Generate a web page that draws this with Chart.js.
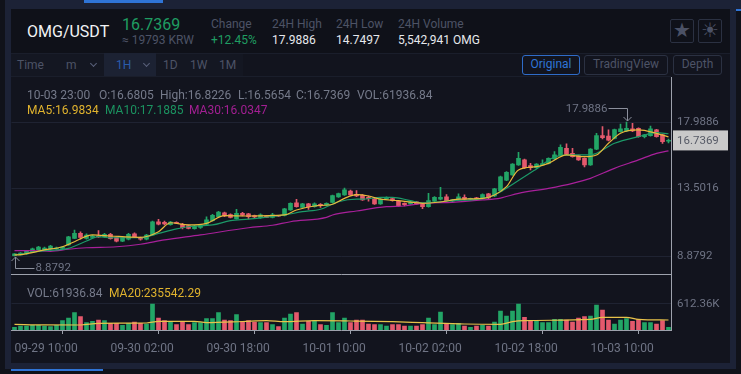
<!DOCTYPE html>
<html>
<head>
<meta charset="utf-8">
<title>OMG/USDT</title>
<script src="https://cdn.jsdelivr.net/npm/chart.js@4/dist/chart.umd.min.js"></script>
<style>
  html, body { margin: 0; padding: 0; background: #12141e; }
  #page { position: relative; width: 741px; height: 374px; overflow: hidden; background: #12141e; font-family: Roboto, sans-serif; }
  #page div, #page span { position: absolute; white-space: nowrap; }
  canvas { position: absolute; left: 0; }
  .label { color: #4d5366; font-size: 12px; }
  .value { color: #e6e8ec; font-size: 12px; }
  .tool { color: #4d5366; font-size: 12px; top: 58px; }
  .info { color: #757a8a; font-size: 12px; }
  .btn { box-sizing: border-box; top: 55px; height: 20px; line-height: 17px; text-align: center; font-size: 12px; border: 1px solid #2b3142; border-radius: 3px; color: #4d5366; }
  .chev { width: 4px; height: 4px; border-right: 1.5px solid #59607a; border-bottom: 1.5px solid #59607a; transform: rotate(45deg); top: 61px; }
  .icon { box-sizing: border-box; top: 19px; width: 24px; height: 24px; border: 1px solid #2b3142; border-radius: 2px; color: #4b5165; text-align: center; line-height: 21px; font-size: 20px; }
</style>
</head>
<body>
<div id="page">
  <!-- surrounding page -->
  <div style="left:0;top:0;width:741px;height:9px;background:#1c2236"></div>
  <div style="left:84px;top:0;width:79px;height:3px;background:#2f74d6"></div>
  <div style="left:5px;top:0;width:6px;height:374px;background:#1c2236"></div>
  <div style="left:0;top:0;width:5px;height:374px;background:#10121a"></div>
  <div style="left:730px;top:0;width:11px;height:374px;background:#1c2236"></div>
  <div style="left:736px;top:9px;width:5px;height:365px;background:#10121a"></div>
  <div style="left:736px;top:9px;width:5px;height:2px;background:#2f74d6"></div>
  <div style="left:5px;top:363px;width:731px;height:6px;background:#1c2236"></div>
  <div style="left:0;top:369px;width:741px;height:5px;background:#10121a"></div>
  <div style="left:11px;top:369px;width:92px;height:2px;background:#2f74d6"></div>
  <div style="left:11px;top:9px;width:719px;height:44px;background:#0f1119"></div>
  <div style="left:11px;top:53px;width:719px;height:1px;background:#1a1e2b"></div>
  <div style="left:11px;top:76px;width:660px;height:1px;background:#1a1e2b"></div>
  <div style="left:11px;top:54px;width:232px;height:22px;background:#141722"></div>
  <div style="left:104px;top:53px;width:52px;height:23px;background:#1c2233"></div>

  <!-- header -->
  <div style="left:27px;top:22px;color:#f2f3f5;font-size:16px">OMG/USDT</div>
  <div style="left:122px;top:15px;color:#1f9d62;font-size:16px">16.7369</div>
  <div style="left:122px;top:33px;color:#4d5366;font-size:12px">≈ 19793 KRW</div>
  <div class="label" style="left:211px;top:17px">Change</div>
  <div style="left:211px;top:33px;color:#1f9d62;font-size:12px">+12.45%</div>
  <div class="label" style="left:272px;top:17px">24H High</div>
  <div class="value" style="left:272px;top:33px">17.9886</div>
  <div class="label" style="left:336px;top:17px">24H Low</div>
  <div class="value" style="left:336px;top:33px">14.7497</div>
  <div class="label" style="left:398px;top:17px">24H Volume</div>
  <div class="value" style="left:398px;top:33px">5,542,941 OMG</div>
  <div class="icon" style="left:670px">★</div>
  <div class="icon" style="left:698px">☀</div>

  <!-- toolbar -->
  <div class="tool" style="left:17px">Time</div>
  <div class="tool" style="left:66px">m</div>
  <div class="chev" style="left:91px"></div>
  <div class="tool" style="left:116px;color:#2a5cab">1H</div>
  <div class="chev" style="left:144px"></div>
  <div class="tool" style="left:163px">1D</div>
  <div class="tool" style="left:190px">1W</div>
  <div class="tool" style="left:219px">1M</div>
  <div class="btn" style="left:522px;width:58px;color:#2f74d6;border-color:#2f6cc8">Original</div>
  <div class="btn" style="left:584px;width:84px">TradingView</div>
  <div class="btn" style="left:673px;width:49px">Depth</div>

  <canvas id="price-chart" width="741" height="200" style="top:77px;width:741px;height:200px"></canvas>
  <canvas id="volume-chart" width="741" height="89" style="top:274px;width:741px;height:89px"></canvas>

  <!-- legends -->
  <div class="info" style="left:27px;top:88px">10-03 23:00</div>
  <div class="info" style="left:99px;top:88px">O:16.6805</div>
  <div class="info" style="left:160px;top:88px">High:16.8226</div>
  <div class="info" style="left:238px;top:88px">L:16.5654</div>
  <div class="info" style="left:296px;top:88px">C:16.7369</div>
  <div class="info" style="left:357px;top:88px">VOL:61936.84</div>
  <div class="info" style="left:27px;top:103px;color:#e0b32e">MA5:16.9834</div>
  <div class="info" style="left:105px;top:103px;color:#1b9360">MA10:17.1885</div>
  <div class="info" style="left:189px;top:103px;color:#a31f93">MA30:16.0347</div>
  <div class="info" style="left:27px;top:286px">VOL:61936.84</div>
  <div class="info" style="left:109px;top:286px;color:#e0b32e">MA20:235542.29</div>
</div>

<script>
/* Candles, one per hour from 09-29 10:00 to 10-03 23:00 */
let opens = [8.91, 8.95, 9.02, 9.15, 9.29, 9.29, 9.36, 9.36, 9.39, 9.63,
    10.08, 10.42, 10.08, 10.15, 10.24, 10.19, 10.36, 10.15, 9.88, 10.02,
    10.38, 10.12, 10.02, 10.31, 11.21, 11.17, 11.01, 11.17, 11.04, 10.94,
    10.74, 10.83, 11.04, 11.28, 11.55, 11.82, 11.69, 11.42, 11.78, 11.74,
    11.62, 11.48, 11.6, 11.51, 11.62, 11.63, 12.01, 12.5, 12.19, 12.42,
    12.23, 12.4, 12.35, 12.53, 12.89, 13.03, 13.3, 13.08, 13.01, 12.87,
    12.76, 12.42, 12.78, 12.78, 12.6, 12.46, 12.42, 12.57, 12.42, 12.23,
    12.6, 12.74, 12.91, 12.6, 12.74, 12.87, 12.74, 12.8, 12.78, 13.1,
    12.96, 13.3, 14.03, 14.39, 15.07, 15.41, 15.02, 14.88, 15.07, 15.18,
    15.48, 15.7, 16.2, 15.86, 15.7, 15.52, 15.07, 16.14, 17.06, 17.04,
    16.88, 17.33, 17.38, 17.52, 17.56, 16.99, 17.06, 17.45, 17.11, 16.6805]

let closes = [9.02, 9.08, 9.22, 9.36, 9.49, 9.42, 9.56, 9.42, 9.49, 10.19,
    10.42, 10.15, 10.31, 10.24, 10.17, 10.36, 10.06, 9.88, 10.15, 10.36,
    10.19, 10.02, 10.31, 11.21, 11.04, 11.06, 11.19, 11.1, 10.8, 10.76,
    10.92, 10.97, 11.33, 11.65, 11.87, 11.6, 11.51, 11.78, 11.65, 11.55,
    11.53, 11.67, 11.51, 11.67, 11.58, 12.08, 12.46, 12.23, 12.42, 12.23,
    12.42, 12.3, 12.46, 12.98, 13.12, 13.37, 13.03, 12.96, 12.69, 12.78,
    12.42, 12.74, 12.87, 12.64, 12.28, 12.37, 12.55, 12.42, 12.23, 12.64,
    12.87, 12.87, 12.64, 12.69, 12.91, 12.74, 12.78, 12.76, 13.05, 12.82,
    13.44, 14.27, 14.57, 15.12, 15.52, 14.88, 14.88, 15.12, 15.16, 15.52,
    15.75, 16.27, 15.8, 15.63, 15.41, 15.07, 16.14, 17.06, 16.92, 16.75,
    17.47, 17.52, 17.56, 17.38, 16.99, 17.11, 17.52, 16.99, 16.65, 16.7369]

let highs = [9.05, 9.12, 9.26, 9.42, 9.53, 9.49, 9.6, 9.49, 9.53, 10.22,
    10.65, 10.53, 10.38, 10.28, 10.6, 10.42, 10.42, 10.19, 10.19, 10.42,
    10.45, 10.17, 10.35, 11.25, 11.38, 11.25, 11.23, 11.2, 11.1, 10.98,
    10.96, 11.04, 11.55, 11.72, 11.92, 11.87, 11.74, 12.06, 11.84, 11.78,
    11.66, 11.74, 11.63, 11.78, 11.65, 12.12, 12.5, 12.74, 12.46, 12.46,
    12.5, 12.44, 12.5, 13.02, 13.16, 13.5, 13.36, 13.32, 13.06, 12.96,
    12.8, 12.78, 12.9, 12.84, 12.64, 12.5, 12.6, 12.6, 12.46, 13.14,
    12.92, 13.55, 13.05, 12.74, 13.1, 13.03, 12.82, 12.87, 13.1, 13.14,
    13.48, 14.31, 14.62, 15.16, 15.93, 15.46, 15.18, 15.16, 15.41, 15.56,
    15.97, 16.43, 16.5, 16.2, 15.74, 15.56, 16.18, 17.22, 17.67, 17.45,
    17.51, 17.84, 17.9886, 17.9, 17.6, 17.15, 17.72, 17.49, 17.15, 16.8226]

let lows = [8.8792, 8.93, 8.98, 9.12, 9.26, 9.25, 9.33, 9.32, 9.36, 9.6,
    10.05, 10.02, 10.02, 10.1, 10.14, 10.15, 10.02, 9.84, 9.85, 9.98,
    10.15, 9.95, 9.98, 10.28, 11.0, 11.0, 10.98, 11.07, 10.72, 10.72,
    10.7, 10.75, 11.0, 11.24, 11.5, 11.55, 11.47, 11.38, 11.6, 11.4,
    11.48, 11.44, 11.48, 11.47, 11.55, 11.6, 11.98, 12.2, 12.15, 12.05,
    12.2, 12.19, 12.31, 12.5, 12.86, 13.0, 12.99, 12.92, 12.65, 12.6,
    12.38, 12.38, 12.74, 12.6, 12.24, 12.28, 12.38, 12.38, 12.1, 12.2,
    12.56, 12.7, 12.6, 12.56, 12.7, 12.7, 12.7, 12.7, 12.74, 12.78,
    12.92, 13.26, 14.0, 14.35, 15.03, 14.84, 14.73, 14.84, 15.03, 15.14,
    15.44, 15.66, 15.76, 15.59, 15.37, 14.93, 15.03, 16.1, 16.84, 16.71,
    16.84, 17.29, 17.34, 17.34, 16.95, 16.9, 17.02, 16.95, 16.54, 16.5654]

// volume in thousands
let volumes = [63, 94, 94, 110, 110, 94, 79, 110, 220, 283,
    408, 314, 173, 204, 236, 220, 157, 157, 110, 157,
    188, 157, 141, 612.36, 283, 220, 204, 126, 204, 126,
    173, 173, 267, 267, 408, 236, 220, 361, 204, 220,
    188, 173, 173, 126, 79, 283, 377, 408, 141, 204,
    220, 126, 110, 408, 173, 283, 173, 236, 236, 141,
    126, 126, 94, 126, 126, 94, 94, 94, 126, 283,
    126, 424, 157, 126, 157, 94, 63, 94, 110, 94,
    188, 447, 330, 447, 612, 298, 204, 204, 173, 173,
    251, 251, 236, 188, 283, 314, 330, 589, 471, 236,
    141, 236, 267, 204, 251, 173, 173, 141, 220, 61.94]

/* Moving averages as [candle index, value] */
let ma5 = [[0, 8.95], [1, 8.97], [5, 9.29], [8, 9.51], [10, 9.85], [13, 10.31], [16, 10.24], [21, 10.15],
    [24, 10.53], [26, 11.14], [29, 10.99], [32, 11.1], [35, 11.62], [39, 11.6], [45, 11.67], [47, 12.01],
    [50, 12.28], [53, 12.4], [55, 12.8], [57, 13.05], [59, 12.96], [61, 12.74], [64, 12.64], [67, 12.5],
    [68, 12.46], [71, 12.55], [74, 12.74], [78, 12.8], [80, 13.03], [82, 13.59], [84, 14.73], [87, 14.95],
    [89, 15.18], [92, 15.75], [95, 15.63], [97, 15.75], [99, 16.54], [101, 17.22], [104, 17.45],
    [107, 17.22], [109, 16.98]]

let ma10 = [[0, 8.95], [5, 9.24], [9, 9.4], [12, 9.9], [14, 10.19], [16, 10.12], [21, 10.12], [24, 10.42],
    [27, 10.72], [29, 10.87], [33, 10.99], [36, 11.28], [39, 11.38], [45, 11.67], [48, 11.89], [51, 12.06],
    [54, 12.57], [57, 12.74], [58, 12.74], [61, 12.87], [63, 12.87], [66, 12.64], [68, 12.5], [73, 12.64],
    [78, 12.78], [80, 13.03], [84, 14.01], [87, 14.8], [90, 15.61], [93, 15.75], [96, 15.75], [100, 16.54],
    [104, 16.99], [107, 17.26], [109, 17.19]]

let ma30 = [[0, 9.24], [3, 9.24], [6, 9.2], [9, 9.34], [12, 9.44], [17, 9.51], [21, 9.68], [25, 9.97],
    [31, 10.31], [39, 10.8], [43, 10.97], [46, 11.21], [52, 11.51], [53, 11.67], [57, 11.94], [62, 12.23],
    [65, 12.28], [68, 12.46], [73, 12.53], [78, 12.69], [81, 12.82], [84, 13.14], [89, 13.48], [93, 13.82],
    [96, 14.16], [100, 14.84], [104, 15.41], [107, 15.86], [109, 16.03]]

let volumeMa20 = [[0, 133], [5, 120], [11, 118], [14, 157], [22, 165], [24, 204], [30, 204], [32, 175],
    [38, 200], [42, 220], [45, 196], [50, 220], [56, 212], [63, 196], [68, 173], [75, 141], [81, 133],
    [83, 196], [85, 220], [96, 251], [98, 298], [102, 298], [104, 251], [109, 235.5]]

/* Axis ticks */
let priceTicks = [8.8792, 13.5016, 17.9886]
let volumeTicks = [612.36]
let timeTickPositions = [0, 16, 32, 48, 64, 80, 96]
let timeTickLabels = ['09-29 10:00', '09-30 02:00', '09-30 18:00', '10-01 10:00', '10-02 02:00', '10-02 18:00', '10-03 10:00']

let maxMarker = { index: 102, value: 17.9886 }
let minMarker = { index: 0, value: 8.8792 }
let lastPrice = 16.7369

/* Colors */
let upColor = '#22a566'
let downColor = '#e4596c'
let gridColor = '#1f2332'
let axisColor = '#9ea2ad'
let tickTextColor = '#6f7485'

let candleColors = closes.map((close, i) => close >= opens[i] ? upColor : downColor)

function pairsToPoints(pairs) {
    return pairs.map(pair => ({ x: pair[0], y: pair[1] }))
}

function maDataset(pairs, color, yAxis) {
    return {
        type: 'line',
        data: pairsToPoints(pairs),
        borderColor: color,
        borderWidth: 1.2,
        pointRadius: 0,
        cubicInterpolationMode: 'monotone',
        order: 0,
        yAxisID: yAxis
    }
}

// min / max markers and the last price box on the price panel
let priceMarkers = {
    id: 'priceMarkers',
    afterDraw(chart) {
        let ctx = chart.ctx
        let xScale = chart.scales.x
        let yScale = chart.scales.y
        ctx.save()
        ctx.font = '11.5px Roboto'
        ctx.textBaseline = 'middle'
        ctx.strokeStyle = '#8b8f9c'
        ctx.lineWidth = 1

        // max marker
        let hx = Math.round(xScale.getPixelForValue(maxMarker.index)) + 0.5
        let hy = yScale.getPixelForValue(maxMarker.value)
        ctx.beginPath()
        ctx.moveTo(hx - 19, hy - 13.5)
        ctx.lineTo(hx, hy - 13.5)
        ctx.lineTo(hx, hy - 1)
        ctx.moveTo(hx - 4, hy - 5)
        ctx.lineTo(hx, hy - 1)
        ctx.lineTo(hx + 4, hy - 5)
        ctx.stroke()
        ctx.fillStyle = '#6f7485'
        ctx.textAlign = 'right'
        ctx.fillText(maxMarker.value.toFixed(4), hx - 20, hy - 13)

        // min marker
        let lx = Math.round(xScale.getPixelForValue(minMarker.index)) + 0.5
        let ly = yScale.getPixelForValue(minMarker.value)
        ctx.beginPath()
        ctx.moveTo(lx + 19, ly + 12.5)
        ctx.lineTo(lx, ly + 12.5)
        ctx.lineTo(lx, ly + 1)
        ctx.moveTo(lx - 4, ly + 5)
        ctx.lineTo(lx, ly + 1)
        ctx.lineTo(lx + 4, ly + 5)
        ctx.stroke()
        ctx.textAlign = 'left'
        ctx.fillText(minMarker.value.toFixed(4), lx + 20, ly + 12.5)

        // last price box
        let py = yScale.getPixelForValue(lastPrice)
        ctx.fillStyle = '#c9c9c9'
        ctx.fillRect(673, py - 10, 55, 20)
        ctx.fillStyle = '#565a66'
        ctx.fillText(lastPrice.toFixed(4), 677, py + 0.5)
        ctx.restore()
    }
}

// y axis with only the ticks that are in the picture
function sideAxis(values, bounds, format) {
    return {
        position: 'right',
        min: bounds[0],
        max: bounds[1],
        afterBuildTicks: scale => { scale.ticks = values.map(v => ({ value: v })) },
        afterFit: scale => {
            scale.width = 69.5
            // the labels sit well inside the panel, no room needed for them at the ends
            scale.paddingTop = 0
            scale.paddingBottom = 0
        },
        grid: { color: gridColor, drawTicks: false },
        border: { display: true, color: axisColor },
        ticks: {
            color: tickTextColor,
            font: { family: 'Roboto', size: 11.5 },
            padding: 5.5,
            autoSkip: false,
            callback: format
        }
    }
}

let priceChart = new Chart(document.querySelector('#price-chart').getContext('2d'), {
    type: 'bar',
    data: {
        datasets: [
            maDataset(ma5, '#e8b83c', 'y'),
            maDataset(ma10, '#1c9a68', 'y'),
            maDataset(ma30, '#a8209a', 'y'),
            {
                data: opens.map((open, i) => ({ x: i, y: [open, closes[i]] })),
                backgroundColor: candleColors,
                barThickness: 4,
                minBarLength: 1,
                order: 1
            },
            {
                data: lows.map((low, i) => ({ x: i, y: [low, highs[i]] })),
                backgroundColor: candleColors,
                barThickness: 1,
                order: 2
            }
        ]
    },
    options: {
        responsive: false,
        animation: false,
        layout: { autoPadding: false, padding: { left: 11.5, top: 0, right: 0, bottom: 3 } },
        plugins: { legend: { display: false }, tooltip: { enabled: false } },
        datasets: { bar: { grouped: false } },
        scales: {
            x: {
                type: 'linear',
                offset: false,
                min: -0.5,
                max: 109.5,
                afterFit: scale => { scale.height = 0 },
                grid: { display: false },
                border: { display: true, color: axisColor },
                ticks: { display: false }
            },
            y: sideAxis(priceTicks, [7.656, 21.048], value => value.toFixed(4))
        }
    },
    plugins: [priceMarkers]
})

let volumeChart = new Chart(document.querySelector('#volume-chart').getContext('2d'), {
    type: 'bar',
    data: {
        datasets: [
            maDataset(volumeMa20, '#e8c24a', 'y'),
            {
                data: volumes.map((volume, i) => ({ x: i, y: volume })),
                backgroundColor: candleColors,
                barThickness: 4,
                order: 1
            }
        ]
    },
    options: {
        responsive: false,
        animation: false,
        layout: { autoPadding: false, padding: { left: 11.5, top: 0, right: 0, bottom: 0 } },
        plugins: { legend: { display: false }, tooltip: { enabled: false } },
        scales: {
            x: {
                type: 'linear',
                offset: false,
                min: -0.5,
                max: 109.5,
                afterBuildTicks: scale => { scale.ticks = timeTickPositions.map(v => ({ value: v })) },
                afterFit: scale => { scale.height = 33 },
                grid: { drawOnChartArea: false, color: axisColor, tickLength: 4 },
                border: { display: true, color: axisColor },
                ticks: {
                    color: tickTextColor,
                    font: { family: 'Roboto', size: 12 },
                    align: 'start',
                    padding: 8,
                    maxRotation: 0,
                    autoSkip: false,
                    callback: value => timeTickLabels[timeTickPositions.indexOf(value)]
                }
            },
            y: sideAxis(volumeTicks, [0, 1318.9], value => value.toFixed(2) + 'K')
        }
    }
})
</script>
</body>
</html>
